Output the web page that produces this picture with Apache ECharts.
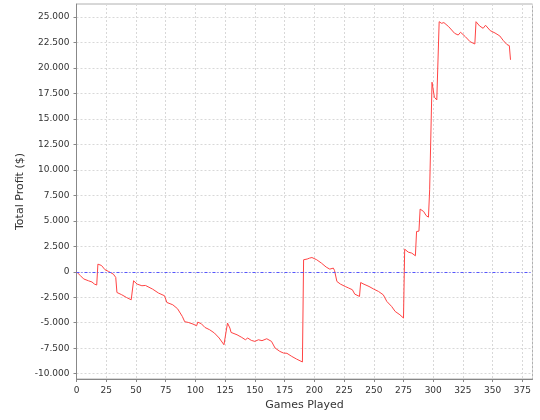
<!DOCTYPE html>
<html>
<head>
<meta charset="utf-8">
<script src="https://cdn.jsdelivr.net/npm/echarts@6/dist/echarts.min.js"></script>
<style>html,body{margin:0;padding:0;background:#fff}#c{width:540px;height:420px}</style>
</head>
<body>
<div id="c"></div>
<script>
var games = [0,3,6,10,13,15,17,18,21,24,27,31,33,34,38,42,46,47,48,51,55,58,64,69,74,76,81,85,89,91,94,98,101,102,105,108,112,116,120,124,125,127,129,130,135,139,142,144,147,150,153,156,160,164,167,171,174,177,181,185,190,191,194,196,198,202,206,210,213,216,217,219,222,226,229,232,234,238,239,241,246,250,254,258,261,265,268,272,275,276,279,282,285,286,288,289,292,294,296,297,298,299,300,301,303,304,305,307,309,313,318,321,323,327,331,335,336,339,342,344,348,352,356,359,362,364,365];
var profit = [0,-350,-700,-880,-1000,-1200,-1300,750,620,200,30,-230,-550,-2030,-2250,-2520,-2750,-2850,-880,-1210,-1370,-1340,-1700,-2090,-2350,-3010,-3240,-3630,-4380,-4900,-4970,-5130,-5300,-4940,-5100,-5460,-5690,-6010,-6500,-7160,-7300,-5030,-5520,-5950,-6180,-6440,-6670,-6500,-6730,-6830,-6670,-6760,-6570,-6830,-7480,-7810,-7970,-8000,-8300,-8560,-8850,1180,1250,1340,1400,1180,850,460,260,360,130,-950,-1210,-1440,-1600,-1760,-2190,-2420,-1050,-1180,-1440,-1700,-1930,-2260,-2910,-3400,-3890,-4220,-4540,2220,1930,1830,1570,3950,3990,6150,5910,5520,5360,8040,8040,18600,17840,17130,16860,16900,24540,24380,24450,24050,23400,23230,23500,23070,22580,22350,24540,24120,23890,24190,23660,23430,23140,22680,22300,22190,20800];
var xTicks = 25;
var yTicks = 2500;

function fmt(v){
  var s = Math.abs(Math.round(v)).toString();
  s = s.replace(/\B(?=(\d{3})+(?!\d))/g, '.');
  return (v < 0 ? '-' : '') + s;
}
var pts = games.map(function(g,i){ return [g, profit[i]]; });
var font = 'DejaVu Sans';
var chart = echarts.init(document.getElementById('c'), null, {renderer:'canvas'});
chart.setOption({
  animation:false,
  backgroundColor:'#fff',
  grid:[
    {left:76.5, right:7.5, top:4, bottom:41, show:true, borderColor:'#b0b0b0', borderWidth:1, backgroundColor:'transparent'},
    {left:76.5, right:7.5, top:17, bottom:46.3, show:false}
  ],
  xAxis:[
    {gridIndex:0, type:'value', min:0, max:383.5, interval:xTicks,
     name:'Games Played', nameLocation:'middle', nameGap:19,
     nameTextStyle:{fontFamily:font, fontSize:11, color:'#333'},
     axisLine:{show:true, lineStyle:{color:'#888', width:1}},
     axisTick:{show:true, length:3, lineStyle:{color:'#888'}},
     axisLabel:{fontFamily:font, fontSize:9, color:'#333', margin:7, showMaxLabel:false,
       formatter:function(v){ return (v % 25 === 0) ? String(v) : ''; }},
     splitLine:{show:true, lineStyle:{color:'#d8d8d8', type:[2,2], width:1}}
    },
    {gridIndex:1, type:'value', min:0, max:383.5, show:false, splitLine:{show:false}}
  ],
  yAxis:[
    {gridIndex:0, type:'value', min:0, max:1, 
     name:'Total Profit ($)', nameLocation:'middle', nameGap:51,
     nameTextStyle:{fontFamily:font, fontSize:11, color:'#333'},
     axisLine:{show:true, lineStyle:{color:'#888', width:1}},
     axisTick:{show:false}, axisLabel:{show:false}, splitLine:{show:false}},
    {gridIndex:1, type:'value', min:-10000, max:25000, interval:yTicks,
     axisLine:{show:false},
     axisTick:{show:true, length:3, lineStyle:{color:'#888'}},
     axisLabel:{fontFamily:font, fontSize:9, color:'#333', margin:7, formatter:fmt},
     splitLine:{show:true, lineStyle:{color:'#d8d8d8', type:[2,2], width:1}}
    }
  ],
  series:[{
    type:'line', xAxisIndex:1, yAxisIndex:1, data:pts, showSymbol:false, symbol:'none',
    lineStyle:{color:'#ff4444', width:1}, clip:false,
    markLine:{silent:true, symbol:['none','none'], label:{show:false},
      lineStyle:{color:'#5555ff', type:[3,2,1,2], width:1},
      data:[{yAxis:0}]}
  }]
});
</script>
</body>
</html>
